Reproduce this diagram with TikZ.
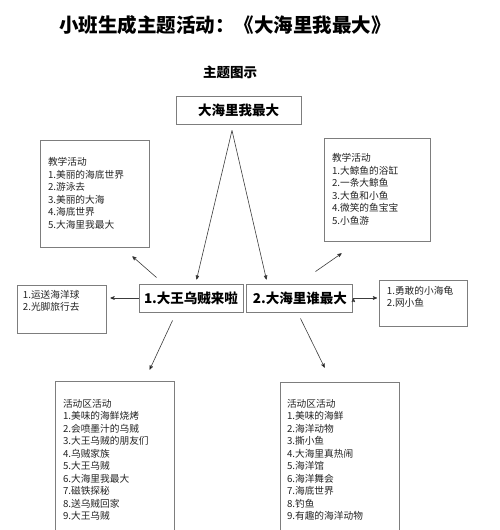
\documentclass[tikz,border=0pt]{standalone}
\usepackage{fontspec}
\setmainfont{Noto Sans CJK SC}
\usepackage{tikz}
\usetikzlibrary{arrows,positioning}
\definecolor{edgegray}{RGB}{125,125,125}
\definecolor{linegray}{RGB}{60,60,60}
\definecolor{textgray}{RGB}{35,35,35}
\tikzstyle{bx}=[draw=edgegray, line width=0.7pt, inner sep=0pt]
\tikzstyle{hb}=[bx, line width=0.9pt, font=\bfseries\fontsize{13.5}{16}\selectfont, minimum height=28pt]
\tikzstyle{lb}=[bx, align=left, text=textgray, font=\fontsize{9.7}{12.5}\selectfont, inner xsep=8pt]
\tikzstyle{lt}=[inner sep=0pt, align=left, text=textgray, font=\fontsize{9.7}{12}\selectfont, anchor=north west]
\begin{document}
\begin{tikzpicture}
[x=1pt, y=-1pt, -stealth', line width=0.6pt]
 \useasboundingbox (0,0) rectangle (500,530);
 \node (title) at (225,25) [font=\bfseries\fontsize{19.5}{22}\selectfont] {小班生成主题活动：《大海里我最大》};
 \node (sub) at (230,72) [font=\bfseries\fontsize{13.5}{16}\selectfont] {主题图示};
 \node[hb, minimum width=125pt] (top) at (238.5,110) {大海里我最大};
 \node[hb, minimum width=104pt] (n1) at (191,298) {1.大王乌贼来啦};
 \node[hb, minimum width=106pt] (n2) [right=3pt of n1] {2.大海里谁最大};
 % teaching activities
 \node[lb, text width=93pt, minimum height=107pt] (jxL) at (94.5,193.5)
   {教学活动\\1.美丽的海底世界\\2.游泳去\\3.美丽的大海\\4.海底世界\\5.大海里我最大};
 \node[lb, text width=90pt, minimum height=103pt] (jxR) at (377,189.5)
   {教学活动\\1.大鲸鱼的浴缸\\2.一条大鲸鱼\\3.大鱼和小鱼\\4.微笑的鱼宝宝\\5.小鱼游};
 % side boxes
 \node[bx, minimum width=89pt, minimum height=48pt] (ship) at (61.5,309) {};
 \node[lt] (shipT) at ([shift={(6,5.5)}]ship.north west) {1.运送海洋球\\2.光脚旅行去};
 \node[bx, minimum width=88pt, minimum height=46pt] (net) at (423,303) {};
 \node[lt] (netT) at ([shift={(8,6.5)}]net.north west) {1.勇敢的小海龟\\2.网小鱼};
 % activity areas
 \node[lb, text width=103pt, minimum height=158pt] (qyL) at (114.5,460)
   {活动区活动\\1.美味的海鲜烧烤\\2.会喷墨汁的乌贼\\3.大王乌贼的朋友们\\4.乌贼家族\\5.大王乌贼\\6.大海里我最大\\7.磁铁探秘\\8.送乌贼回家\\9.大王乌贼};
 \node[lb, text width=105pt, inner xsep=7pt, minimum height=156pt] (qyR) at (339.5,460)
   {活动区活动\\1.美味的海鲜\\2.海洋动物\\3.撕小鱼\\4.大海里真热闹\\5.海洋馆\\6.海洋舞会\\7.海底世界\\8.钓鱼\\9.有趣的海洋动物};
 \path[draw=linegray]
   ([shift={(-6.5,6)}]top.south) edge ([shift={(58,-4)}]n1.north west)
   ([shift={(-6.5,6)}]top.south) edge ([shift={(20,-4)}]n2.north west)
   ([shift={(18,-6)}]n1.north west) edge ([shift={(-17,9)}]jxL.south east)
   ([shift={(69,-12)}]n2.north west) edge ([shift={(18,12)}]jxR.south west)
   ([shift={(34,8)}]n1.south west) edge ([shift={(95,-11)}]qyL.north west)
   ([shift={(54,6)}]n2.south west) edge ([shift={(45,-14)}]qyR.north west)
   (n1.west) edge[shorten >=4pt] (n1.west -| ship.east)
   (n2.east) edge[shorten >=1.5pt] (n2.east -| net.west);
\end{tikzpicture}
\end{document}
